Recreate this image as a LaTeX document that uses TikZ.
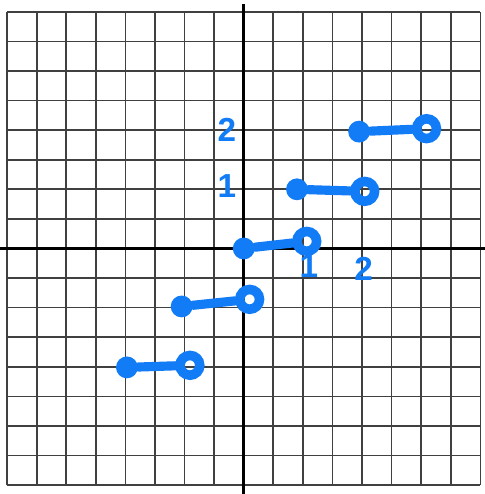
\documentclass[tikz,border=0pt]{standalone}
\usepackage{fontspec}
\setsansfont{Liberation Sans}
\definecolor{ink}{RGB}{18,124,246}
\tikzset{
  gridline/.style={black!75, line width=0.8pt},
  axis/.style={black, line width=1.3pt},
  pen/.style={ink, line width=4.4pt, line cap=round},
  dot/.style={circle, fill=ink, inner sep=0pt, minimum size=10.5pt},
  ring/.style={circle, draw=ink, line width=4.6pt, inner sep=0pt, minimum size=9.5pt},
  lbl/.style={text=ink, font=\sffamily\bfseries\fontsize{16}{16}\selectfont, inner sep=0pt}
}
\begin{document}
\begin{tikzpicture}[x=0.5cm,y=0.5cm]
\useasboundingbox[fill=white] (-8.24,-8.3) rectangle (8.15,8.4);
\draw[gridline, step=0.5cm] (-8,-8) grid (8,8);
\draw[axis] (0,-8.3) -- (0,8.27);
\draw[axis] (-8.24,0) -- (8.15,0);
% steps
\node[dot] (a1) at (-3.95,-4.02) {};
\node[ring] (a2) at (-1.82,-3.95) {};
\draw[pen] (a1) -- (a2);
\node[dot] (b1) at (-2.1,-1.96) {};
\node[ring] (b2) at (0.2,-1.72) {};
\draw[pen] (b1) -- (b2);
\node[dot] (c1) at (0,0) {};
\node[ring] (c2) at (2.13,0.24) {};
\draw[pen] (c1) -- (c2);
\node[dot] (d1) at (1.8,2.0) {};
\node[ring] (d2) at (4.09,1.93) {};
\draw[pen] (d1) -- (d2);
\node[dot] (e1) at (3.9,3.95) {};
\node[ring] (e2) at (6.18,4.05) {};
\draw[pen] (e1) -- (e2);
% labels
\node[lbl] (y2) at (-0.57,4.02) {2};
\node[lbl] (y1) at (-0.57,2.1) {1};
\node[lbl] (x1) at (2.2,-0.6) {1};
\node[lbl] (x2) at (4.05,-0.7) {2};
\end{tikzpicture}
\end{document}
